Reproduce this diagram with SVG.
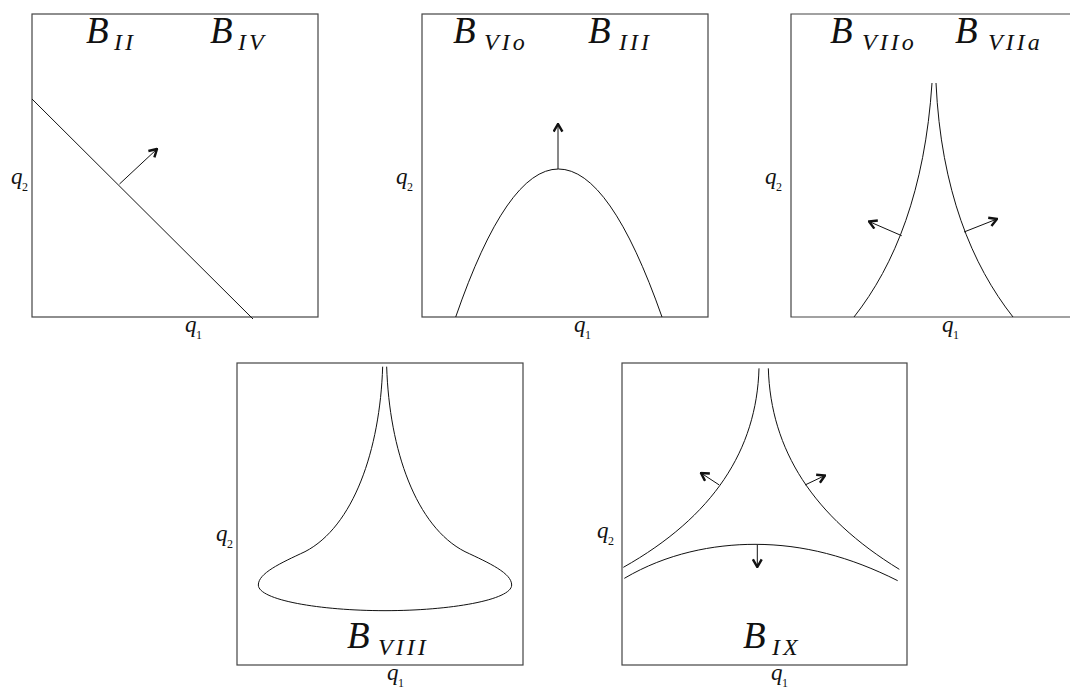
<svg xmlns="http://www.w3.org/2000/svg" width="1070" height="696" viewBox="0 0 1070 696">
<defs>
<style>
.frame{fill:none;stroke:#444;stroke-width:1.2}
.curve{fill:none;stroke:#111;stroke-width:1}
.arrow{fill:none;stroke:#111;stroke-width:1;marker-end:url(#chev)}
.big{font-size:37px}
.sub{font-size:24px;letter-spacing:3px}
.ax{font-size:23px}
.axs{font-size:12px;font-style:normal}
</style>
<marker id="chev" viewBox="0 0 10 10" refX="9" refY="5" markerWidth="11" markerHeight="11" markerUnits="userSpaceOnUse" orient="auto">
<path d="M2,1 L9,5 L2,9" fill="none" stroke="#111" stroke-width="2.2" stroke-linejoin="miter"/>
</marker>
</defs>
<rect width="1070" height="696" fill="#fff"/>

<g font-family="Liberation Serif, Times New Roman, serif" font-style="italic" fill="#111">
<g id="panel1">
<rect class="frame" x="32" y="14" width="286" height="303"/>
<text class="big" x="86" y="43">B</text><text class="sub" x="114" y="50">II</text>
<text class="big" x="210" y="43">B</text><text class="sub" x="238" y="50">IV</text>
<text class="ax" x="11" y="184">q</text><text class="axs" x="22" y="191">2</text>
<text class="ax" x="185" y="332">q</text><text class="axs" x="196" y="339">1</text>
</g>

<g id="panel2">
<rect class="frame" x="422" y="14" width="286" height="303"/>
<text class="big" x="453" y="43">B</text><text class="sub" x="484" y="50">VIo</text>
<text class="big" x="588" y="43">B</text><text class="sub" x="619" y="50">III</text>
<text class="ax" x="396" y="184">q</text><text class="axs" x="407" y="191">2</text>
<text class="ax" x="574" y="332">q</text><text class="axs" x="585" y="339">1</text>
</g>

<g id="panel3">
<path class="frame" d="M1072,14 H791 V317 H1072"/>
<text class="big" x="830" y="43">B</text><text class="sub" x="862" y="50">VIIo</text>
<text class="big" x="955" y="43">B</text><text class="sub" x="988" y="50">VIIa</text>
<text class="ax" x="765" y="184">q</text><text class="axs" x="776" y="191">2</text>
<text class="ax" x="942" y="332">q</text><text class="axs" x="953" y="339">1</text>
</g>

<g id="panel4">
<rect class="frame" x="237" y="363" width="286" height="302"/>
<text class="big" x="347" y="648">B</text><text class="sub" x="378" y="655">VIII</text>
<text class="ax" x="216" y="541">q</text><text class="axs" x="227" y="548">2</text>
<text class="ax" x="387" y="680">q</text><text class="axs" x="398" y="687">1</text>
</g>

<g id="panel5">
<rect class="frame" x="622" y="363" width="285" height="302"/>
<text class="big" x="743" y="648">B</text><text class="sub" x="772" y="655">IX</text>
<text class="ax" x="597" y="538">q</text><text class="axs" x="608" y="545">2</text>
<text class="ax" x="771" y="680">q</text><text class="axs" x="782" y="687">1</text>
</g>
</g>

<g id="connectors">
<line class="curve" x1="32" y1="99" x2="253" y2="319"/>
<line class="arrow" x1="119.5" y1="184" x2="157" y2="149"/>

<path class="curve" d="M455.7,317 Q558,21 662,317"/>
<line class="arrow" x1="558" y1="169" x2="558" y2="124"/>

<path class="curve" d="M854,317 C895,265 925,190 932,83"/>
<path class="curve" d="M1013,317 C972,265 941,190 936,83"/>
<line class="arrow" x1="901.7" y1="235.7" x2="869" y2="221.5"/>
<line class="arrow" x1="964" y1="232" x2="997" y2="219"/>

<path class="curve" d="M382.67,366.67 C380,450 353.33,526.67 305,551.67 C280,563.33 258.33,573.33 258.33,585 C258.33,600 320,610.67 385,610.67 C450,610.67 511.67,600 511.67,585 C511.67,573.33 490,563.33 465,551.67 C416,526.67 389.33,450 386.67,366.67"/>

<path class="curve" d="M759,368.33 C756.67,450 713.33,516.67 623.33,567.33"/>
<path class="curve" d="M768.33,368.33 C770.67,450 813.33,516.67 899.33,569.33"/>
<path class="curve" d="M624.33,578.33 C666.67,553.33 713.33,544.33 755,544.33 C803.33,544.33 850,556.67 897.67,580.67"/>
<line class="arrow" x1="757.3" y1="545" x2="757.3" y2="567"/>
<line class="arrow" x1="719.3" y1="485" x2="701" y2="473"/>
<line class="arrow" x1="805" y1="485" x2="825" y2="475.5"/>
</g>
</svg>
